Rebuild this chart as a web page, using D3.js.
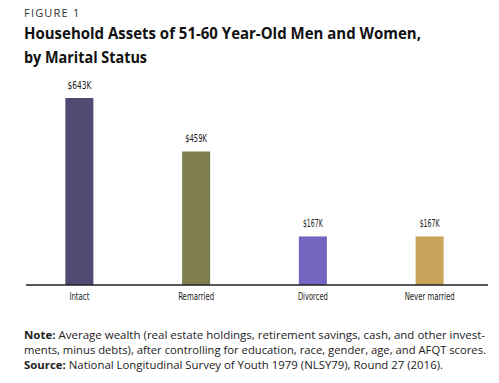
<!DOCTYPE html>
<html>
<head>
<meta charset="utf-8">
<script src="https://cdn.jsdelivr.net/npm/d3@7"></script>
<style>
  html, body { margin: 0; padding: 0; background: #fff; }
  svg { display: block; }
</style>
</head>
<body>
<svg id="chart" width="499" height="383"></svg>
<script>
const categories = ["Intact", "Remarried", "Divorced", "Never married"];
const values = [643, 459, 167, 167];
const valueLabels = ["$643K", "$459K", "$167K", "$167K"];
const colors = ["#514a72", "#7e7e4e", "#7564c0", "#c6a45a"];

const svg = d3.select("#chart");
const baseY = 285;
const x = d3.scaleBand().domain(categories).range([21, 488]).paddingInner(0.76).paddingOuter(0.38);
const y = d3.scaleLinear().domain([0, 643]).range([baseY, 98]);

const titleFont = "'Open Sans', 'DejaVu Sans', sans-serif";
const narrow = "'DejaVu Sans Condensed', 'Liberation Sans Narrow', 'Roboto', sans-serif";

svg.append("text").attr("x", 24).attr("y", 16.5)
  .attr("font-family", titleFont).attr("font-size", 11).attr("letter-spacing", 1.2)
  .attr("fill", "#333").text("FIGURE 1");

svg.append("text").attr("x", 24).attr("y", 38.5)
  .attr("font-family", titleFont).attr("font-size", 15.5).attr("font-weight", 700)
  .attr("fill", "#111").attr("textLength", 397).attr("lengthAdjust", "spacingAndGlyphs")
  .text("Household Assets of 51-60 Year-Old Men and Women,");
svg.append("text").attr("x", 24).attr("y", 62.5)
  .attr("font-family", titleFont).attr("font-size", 15.5).attr("font-weight", 700)
  .attr("fill", "#111").attr("textLength", 123).attr("lengthAdjust", "spacingAndGlyphs")
  .text("by Marital Status");

svg.selectAll("rect.bar").data(values).enter().append("rect")
  .attr("class", "bar")
  .attr("x", (d, i) => x(categories[i]))
  .attr("width", x.bandwidth())
  .attr("y", d => y(d))
  .attr("height", d => baseY - y(d))
  .attr("fill", (d, i) => colors[i]);

const valW = [24, 22, 20, 20];
svg.selectAll("text.val").data(values).enter().append("text")
  .attr("class", "val")
  .attr("x", (d, i) => x(categories[i]) + x.bandwidth() / 2)
  .attr("y", d => y(d) - 9.5)
  .attr("text-anchor", "middle")
  .attr("font-family", narrow).attr("font-size", 10.5).attr("fill", "#1a1a1a")
  .attr("textLength", (d, i) => valW[i]).attr("lengthAdjust", "spacingAndGlyphs")
  .text((d, i) => valueLabels[i]);

const catW = [20, 36, 30, 50];
const axis = d3.axisBottom(x).tickSize(0).tickPadding(8);
const gAxis = svg.append("g").attr("transform", `translate(0,${baseY})`).call(axis);
gAxis.select(".domain").remove();
gAxis.selectAll(".tick text").attr("font-family", narrow).attr("font-size", 10.5).attr("fill", "#1a1a1a")
  .attr("textLength", (d, i) => catW[i]).attr("lengthAdjust", "spacingAndGlyphs");
gAxis.append("line").attr("x1", 26).attr("x2", 488).attr("y1", 0).attr("y2", 0)
  .attr("stroke", "#222").attr("stroke-width", 1.5);

const noteLines = [
  [{b: "Note:"}, {t: " Average wealth (real estate holdings, retirement savings, cash, and other invest-"}],
  [{t: "ments, minus debts), after controlling for education, race, gender, age, and AFQT scores."}],
  [{b: "Source:"}, {t: " National Longitudinal Survey of Youth 1979 (NLSY79), Round 27 (2016)."}]
];
const noteW = [461, 462, 419];
noteLines.forEach((line, i) => {
  const t = svg.append("text").attr("x", 24).attr("y", 338.5 + i * 15)
    .attr("font-family", titleFont).attr("font-size", 11).attr("fill", "#222")
    .attr("textLength", noteW[i]).attr("lengthAdjust", "spacingAndGlyphs");
  line.forEach(seg => {
    if (seg.b) t.append("tspan").attr("font-weight", 700).text(seg.b);
    else t.append("tspan").text(seg.t);
  });
});
</script>
</body>
</html>
